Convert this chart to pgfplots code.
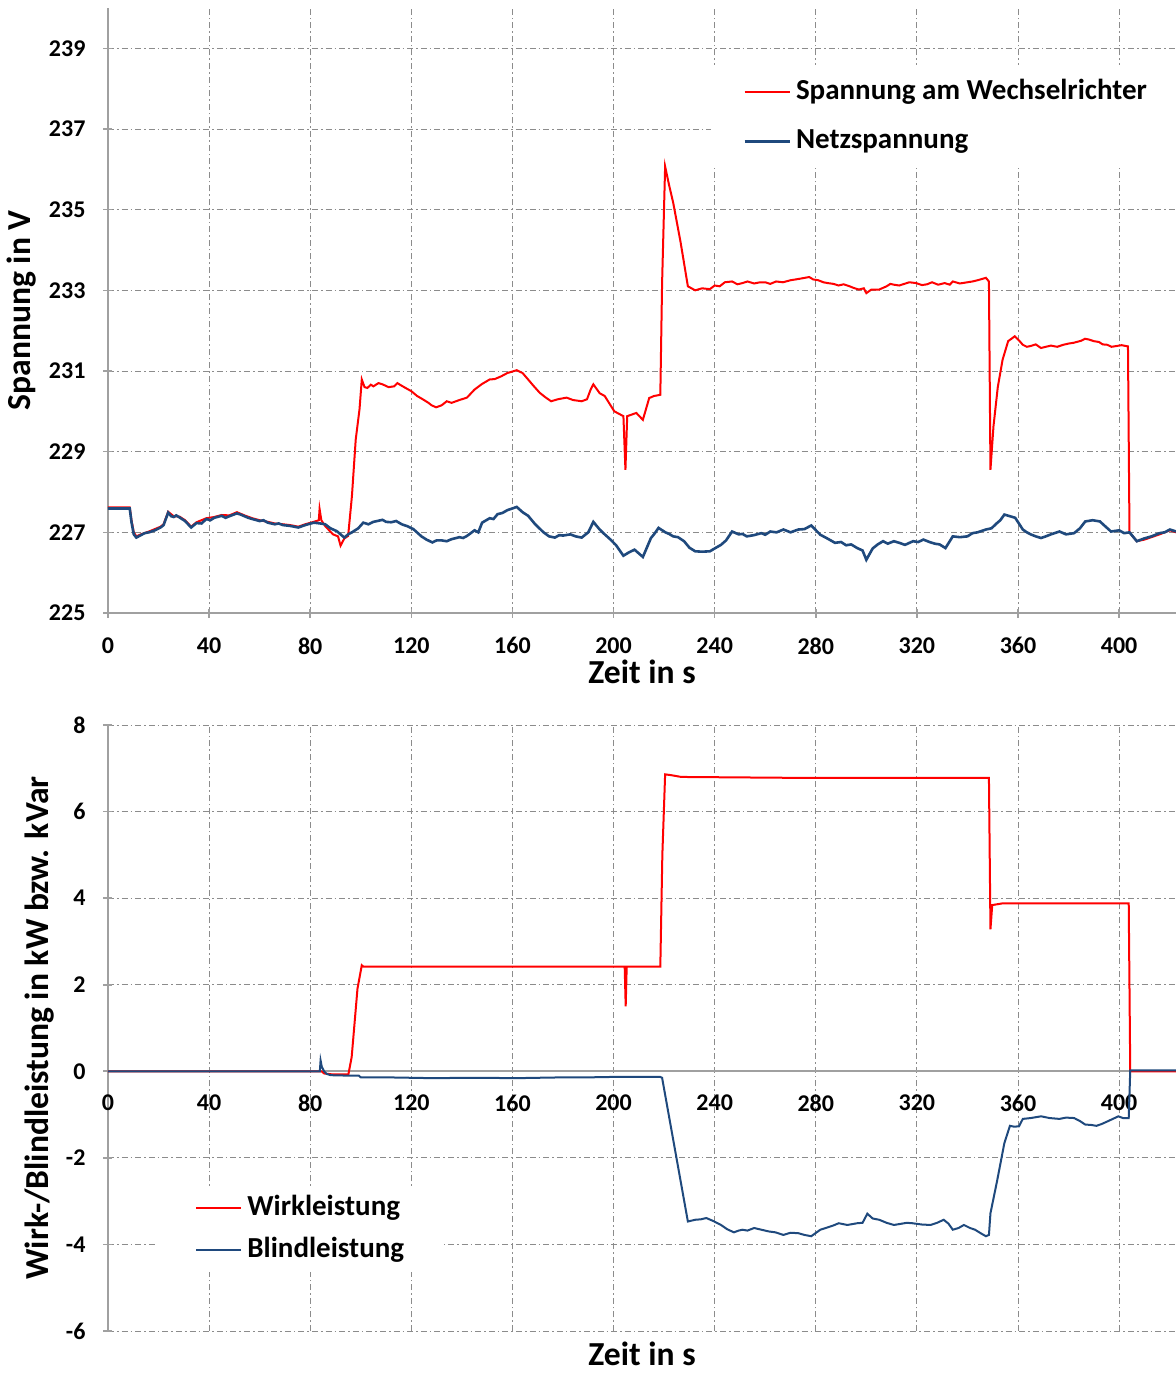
\documentclass[border=0pt]{standalone}
\usepackage{fontspec}
\setmainfont{Carlito}
\usepackage{pgfplots}
\pgfplotsset{compat=1.18}
\definecolor{netz}{RGB}{31,73,125}
\definecolor{gridc}{RGB}{140,140,140}
\definecolor{axc}{RGB}{160,160,160}

\pgfplotsset{
  base/.style={
    scale only axis, width=534pt,
    xmin=0, xmax=422.5,
    xtick={0,40,...,400},
    grid=major,
    grid style={gridc, line width=0.5pt, dash pattern=on 3pt off 1.5pt on 0.8pt off 1.5pt},
    major tick style={axc, line width=0.8pt},
    tick align=outside, major tick length=4.5pt,
    ticklabel style={font=\fontsize{12}{14}\selectfont\bfseries},
    /pgf/number format/assume math mode=true,
    yticklabel style={xshift=-5.5pt},
    legend cell align=left,
    legend image code/.code={\draw[#1] (0pt,0pt) -- (22.5pt,0pt);},
    axis x line=bottom, axis y line=left,
    axis line style={-, axc, line width=0.8pt},
    every outer x axis line/.append style={-},
    every outer y axis line/.append style={-},
    every axis x label/.style={at={(axis description cs:0.5,0)}, anchor=center, inner sep=0pt, font=\fontsize{16.8}{20}\selectfont\bfseries},
    every axis y label/.style={at={(axis description cs:0,0.5)}, rotate=90, anchor=center, inner sep=0pt, font=\fontsize{16.8}{20}\selectfont\bfseries},
  },
}

\begin{document}
\begin{tikzpicture}
\begin{axis}[base,
  at={(0,0)}, anchor=south west, height=302.5pt,
  ymin=225, ymax=240, ytick={225,227,...,239},
  xticklabel style={yshift=-6.5pt},
  xlabel style={yshift=-29.5pt}, ylabel style={yshift=43pt},
  xlabel={Zeit in s}, ylabel={Spannung in V},
  legend style={draw=none, fill=white, at={(axis description cs:0,1)}, anchor=north west,
    xshift=301.5pt, yshift=-28.5pt, inner xsep=16pt, inner ysep=7pt, row sep=11.5pt,
    nodes={inner sep=0pt, text height=10pt, text depth=3pt},
    /tikz/every odd column/.style={column sep=2.5pt},
    font=\fontsize{14.5}{17}\selectfont\bfseries},
]
% Spannung am Wechselrichter
\addplot[red, line width=1pt] coordinates {
(0,227.62)(8.6,227.62)(9.3,227.3)(10.2,227.0)(11.2,226.9)(13,226.95)(16.2,227.02)(20.8,227.14)(22,227.2)(23.8,227.51)(26,227.4)(28.3,227.39)(30.5,227.3)(32.9,227.14)(35,227.25)(38.9,227.35)(42,227.38)(45,227.43)(48,227.42)(51,227.5)(54,227.42)(57.1,227.35)(60,227.3)(63.2,227.26)(66,227.22)(69.2,227.2)(72,227.18)(75.3,227.14)(78,227.2)(81.4,227.26)(83.4,227.3)(83.7,227.58)(84.4,227.3)(86,227.15)(89,226.95)(91,226.9)(92,226.67)(93.5,226.85)(95,226.91)(96.5,227.9)(98,229.3)(99.5,230.05)(100.4,230.79)(101.5,230.6)(102.6,230.58)(104,230.66)(105,230.62)(107,230.7)(108.6,230.67)(111,230.6)(113.2,230.62)(114.5,230.7)(115.5,230.66)(117.7,230.58)(120,230.5)(122.3,230.38)(124.5,230.3)(126.8,230.21)(128,230.15)(129.8,230.1)(132,230.15)(134,230.25)(135.9,230.21)(139,230.28)(142,230.34)(145,230.54)(148,230.68)(151,230.79)(153,230.8)(155.6,230.87)(158,230.95)(161.7,231.02)(164,230.95)(166.2,230.79)(168.5,230.62)(170.8,230.46)(173,230.35)(175.3,230.25)(178,230.3)(181.4,230.34)(184,230.28)(187.4,230.25)(189.5,230.3)(191,230.55)(192,230.67)(194.5,230.45)(196.5,230.38)(198.8,230.15)(200.3,230.0)(203.9,229.88)(204.7,228.55)(205.4,229.88)(209,229.96)(211.6,229.79)(214.1,230.33)(216,230.38)(218.5,230.41)(219.2,233.18)(220.4,236.07)(222,235.6)(223.6,235.17)(226.5,234.2)(229.4,233.1)(232.3,233.0)(235,233.05)(238.1,233.03)(240,233.12)(242,233.1)(244,233.2)(246.9,233.22)(249,233.15)(251,233.18)(253,233.22)(255.6,233.17)(258,233.2)(260,233.2)(262,233.16)(264.3,233.22)(267,233.2)(270,233.25)(273,233.28)(277.4,233.33)(279,233.27)(281,233.25)(283,233.2)(284.7,233.18)(287,233.16)(289,233.12)(291,233.15)(293.4,233.1)(295,233.06)(297,233.02)(299,233.05)(300,232.93)(302,233.02)(305.1,233.02)(308,233.1)(309.5,233.16)(310.9,233.14)(313,233.12)(315,233.16)(317,233.2)(319.7,233.18)(322,233.13)(324,233.15)(326,233.2)(328.4,233.14)(331,233.18)(333,233.14)(334.2,233.22)(337,233.17)(340,233.2)(342,233.22)(344,233.25)(347.3,233.31)(348.5,233.22)(349.1,228.55)(350.3,229.63)(352,230.6)(353.9,231.28)(356.1,231.74)(358.7,231.86)(360.5,231.75)(361.9,231.65)(363.5,231.6)(365,231.62)(367,231.66)(369.1,231.57)(371,231.6)(373,231.63)(375.5,231.6)(377.9,231.65)(380,231.68)(382,231.7)(385,231.75)(386.5,231.8)(388.1,231.78)(390,231.74)(392,231.72)(393.5,231.66)(395.3,231.65)(397,231.6)(399,231.62)(401,231.64)(403.5,231.61)(404.1,227.0)(407,226.78)(410,226.82)(412.8,226.88)(416,226.95)(420.1,227.05)(422.5,227.0)
};
\addlegendentry{Spannung am Wechselrichter}
% Netzspannung
\addplot[netz, line width=1.3pt] coordinates {
(0,227.59)(8.6,227.59)(9.3,227.25)(10.2,226.95)(11.2,226.87)(13,226.93)(14.5,226.98)(16.2,227.0)(18.5,227.05)(20.8,227.12)(22,227.18)(23.8,227.49)(25,227.4)(26,227.38)(27,227.42)(28.3,227.37)(30.5,227.28)(32.9,227.12)(35,227.23)(37,227.22)(38.9,227.33)(40.5,227.3)(42,227.36)(45,227.41)(46.5,227.36)(48,227.4)(51,227.47)(52.5,227.44)(54,227.4)(55.5,227.36)(57.1,227.33)(60,227.28)(61.5,227.3)(63.2,227.24)(66,227.2)(67.5,227.22)(69.2,227.18)(72,227.16)(75.3,227.12)(78,227.18)(81.4,227.24)(84,227.22)(85.9,227.2)(88,227.1)(90.5,227.03)(92,226.95)(93.5,226.87)(95,226.95)(96.5,227.0)(99,227.1)(101,227.24)(103,227.2)(105,227.26)(108.6,227.31)(110,227.26)(112,227.25)(114,227.28)(116.2,227.2)(118.5,227.15)(120.8,227.08)(124,226.9)(126,226.82)(128.3,226.75)(130,226.8)(132,226.8)(134,226.78)(135.9,226.83)(139,226.88)(140.5,226.86)(142,226.91)(145,227.05)(146.5,227.0)(148,227.24)(151,227.35)(152.5,227.33)(154.1,227.45)(156,227.48)(158,227.55)(161.7,227.63)(164,227.5)(166.2,227.41)(169,227.2)(172.3,227.0)(174.5,226.9)(176.8,226.87)(178.5,226.93)(180,226.92)(182.9,226.95)(185,226.9)(187.4,226.87)(190,227.0)(192,227.26)(194.5,227.07)(196.5,226.95)(198.8,226.82)(201,226.68)(203.9,226.42)(206,226.5)(208.3,226.57)(211.6,226.39)(214.8,226.86)(216,226.95)(217.8,227.11)(220.5,227.0)(222,226.96)(223.6,226.9)(225.5,226.88)(227.9,226.78)(230,226.62)(232.3,226.53)(235,226.52)(238.1,226.53)(240,226.6)(242.5,226.69)(244.5,226.8)(246.9,227.02)(249.5,226.95)(251,226.96)(252.7,226.9)(255.5,226.93)(258.5,226.98)(260,226.94)(262,227.02)(264.5,227.0)(267.2,227.07)(270,227.0)(273.1,227.07)(275.5,227.08)(278.2,227.17)(281.8,226.94)(284.5,226.85)(287.6,226.74)(290,226.76)(292,226.68)(294,226.7)(296.4,226.61)(298.5,226.55)(300,226.32)(302.5,226.6)(304.5,226.7)(306.6,226.78)(308.5,226.72)(310.9,226.78)(313,226.74)(315.3,226.69)(318.5,226.78)(320.5,226.76)(322.6,226.82)(325,226.76)(327,226.72)(329,226.7)(331.3,226.61)(334.2,226.9)(337,226.88)(340,226.9)(342,226.98)(344,227.0)(347.3,227.07)(349.5,227.1)(351.7,227.23)(353,227.3)(354.6,227.44)(356.8,227.4)(358.9,227.36)(361.9,227.07)(363.5,227.0)(365,226.95)(367,226.9)(369.1,226.86)(371,226.9)(373,226.95)(376.4,227.02)(379,226.95)(382.2,226.98)(384.5,227.1)(386.6,227.27)(389.5,227.3)(392.4,227.27)(394.5,227.15)(396.8,227.02)(400,227.05)(402,226.98)(404.1,227.0)(407,226.78)(410,226.85)(412.8,226.9)(416,226.98)(418,227.0)(420.1,227.07)(422.5,227.02)
};
\addlegendentry{Netzspannung}
\end{axis}

\begin{axis}[base,
  at={(0,-56pt)}, anchor=north west, height=303pt,
  ymin=-6, ymax=8, ytick={-6,-4,...,8},
  x axis line style={draw=none},
  xtick style={draw=none},
  xticklabel style={yshift=123.8pt},
  extra y ticks={0}, extra y tick labels={},
  extra y tick style={grid=major, major grid style={solid, axc, line width=0.8pt}},
  xlabel style={yshift=-11.5pt}, ylabel style={yshift=34pt},
  xlabel={Zeit in s}, ylabel={Wirk-/Blindleistung in kW bzw. kVar},
  legend style={draw=none, fill=white, at={(axis description cs:0,1)}, anchor=north west,
    xshift=23.5pt, yshift=-230.5pt, inner xsep=20pt, inner ysep=4.5pt, row sep=8pt,
    nodes={inner sep=0pt, text height=10pt, text depth=3pt},
    /tikz/every odd column/.style={column sep=2.5pt},
    font=\fontsize{14.5}{17}\selectfont\bfseries},
]
% Wirkleistung
\addplot[red, line width=1pt] coordinates {
(0,0)(84.5,0)(85.5,-0.05)(88.5,-0.07)(95.1,-0.07)(96.4,0.33)(98.7,1.91)(100.4,2.45)(101,2.42)(204.4,2.42)(204.8,1.5)(205.2,2.42)(218.5,2.42)(219.3,5.0)(220.4,6.86)(222.9,6.84)(226.8,6.80)(270,6.78)(348.5,6.78)(349.1,3.28)(349.8,3.84)(353.9,3.88)(403.8,3.88)(404.4,0)(422.5,0)
};
\addlegendentry{Wirkleistung}
% Blindleistung
\addplot[netz, line width=1pt] coordinates {
(0,0)(83.8,0)(84.1,0.25)(84.6,0.1)(85.5,0)(86.5,-0.06)(88.1,-0.09)(95,-0.1)(99.2,-0.1)(100,-0.14)(110,-0.14)(120,-0.15)(130,-0.16)(140,-0.15)(150,-0.15)(160,-0.16)(170,-0.15)(180,-0.14)(190,-0.14)(200,-0.13)(210,-0.13)(218.5,-0.13)(219.2,-0.15)(229.4,-3.47)(232.3,-3.43)(234.5,-3.42)(236.7,-3.39)(239.5,-3.46)(242.5,-3.55)(245,-3.65)(247.6,-3.72)(249.5,-3.68)(251,-3.66)(253,-3.68)(255.6,-3.62)(258.5,-3.66)(261.4,-3.70)(264,-3.72)(267.2,-3.78)(270,-3.73)(273.1,-3.74)(275.5,-3.78)(278.2,-3.81)(281.8,-3.66)(285,-3.6)(287,-3.56)(289.1,-3.51)(292.5,-3.55)(296.4,-3.51)(298.5,-3.5)(300.4,-3.29)(302.5,-3.4)(305.1,-3.43)(308,-3.5)(310.9,-3.55)(314,-3.52)(316,-3.5)(318.2,-3.51)(322,-3.54)(325.4,-3.55)(328,-3.5)(330.6,-3.43)(332.5,-3.52)(334.2,-3.66)(336.5,-3.62)(338.6,-3.55)(341,-3.62)(343,-3.66)(345.5,-3.75)(347.3,-3.81)(348.5,-3.78)(349.1,-3.28)(351.7,-2.54)(354.6,-1.66)(356.8,-1.26)(358.5,-1.28)(360.4,-1.27)(361.9,-1.10)(365,-1.08)(369.1,-1.04)(372.5,-1.08)(376.4,-1.10)(379,-1.07)(382.2,-1.08)(384.5,-1.15)(386.6,-1.23)(389,-1.24)(391,-1.26)(393,-1.22)(395.3,-1.16)(397.5,-1.1)(399.7,-1.04)(401.5,-1.08)(403.8,-1.08)(404.4,0.02)(422.5,0.02)
};
\addlegendentry{Blindleistung}
\end{axis}
\pgfresetboundingbox
\path[use as bounding box] (-54pt,-380pt) rectangle (534pt,306.5pt);
\end{tikzpicture}
\end{document}
